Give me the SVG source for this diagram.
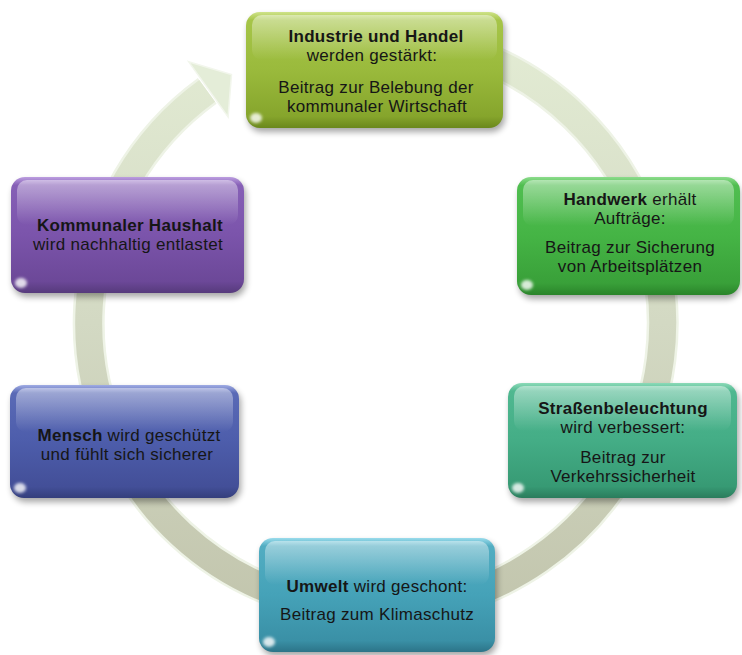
<svg xmlns="http://www.w3.org/2000/svg" width="742" height="655" viewBox="0 0 742 655">
<style>
.t{font-family:"Liberation Sans",Arial,sans-serif;font-size:17px;letter-spacing:.3px;fill:#161616;text-anchor:middle}
.b{font-weight:bold}
.sh{fill:#000;opacity:.35;filter:url(#blur3)}
.hl{fill:url(#hl)}
.gl{fill:#fff;opacity:.8;filter:url(#blur1)}
</style>
<defs>
<filter id="blur3" x="-10%" y="-10%" width="120%" height="130%"><feGaussianBlur stdDeviation="3"/></filter>
<filter id="blur1" x="-50%" y="-50%" width="200%" height="200%"><feGaussianBlur stdDeviation="1.5"/></filter>
<linearGradient id="hl" x1="0" y1="0" x2="0" y2="1"><stop offset="0" stop-color="#fff" stop-opacity=".45"/><stop offset="1" stop-color="#fff" stop-opacity="0"/></linearGradient>
<linearGradient id="ring" gradientUnits="userSpaceOnUse" x1="0" y1="30" x2="0" y2="615"><stop offset="0" stop-color="#e3ecd4"/><stop offset=".5" stop-color="#d3d9c3"/><stop offset="1" stop-color="#c2c5ad"/></linearGradient>
<linearGradient id="g1" x1="0" y1="0" x2="0" y2="1"><stop offset="0" stop-color="#cfe38a"/><stop offset=".07" stop-color="#a6c548"/><stop offset=".5" stop-color="#9aba3c"/><stop offset=".9" stop-color="#86a52c"/><stop offset="1" stop-color="#6a881c"/></linearGradient>
<linearGradient id="g2" x1="0" y1="0" x2="0" y2="1"><stop offset="0" stop-color="#8cdc8c"/><stop offset=".07" stop-color="#50be50"/><stop offset=".5" stop-color="#45b445"/><stop offset=".9" stop-color="#39a039"/><stop offset="1" stop-color="#2a842a"/></linearGradient>
<linearGradient id="g3" x1="0" y1="0" x2="0" y2="1"><stop offset="0" stop-color="#8cdab8"/><stop offset=".07" stop-color="#4fb890"/><stop offset=".5" stop-color="#44ad86"/><stop offset=".9" stop-color="#379a74"/><stop offset="1" stop-color="#2a7c5c"/></linearGradient>
<linearGradient id="g4" x1="0" y1="0" x2="0" y2="1"><stop offset="0" stop-color="#9adcec"/><stop offset=".07" stop-color="#52adc2"/><stop offset=".5" stop-color="#45a2b8"/><stop offset=".9" stop-color="#3a90a6"/><stop offset="1" stop-color="#2c7488"/></linearGradient>
<linearGradient id="g5" x1="0" y1="0" x2="0" y2="1"><stop offset="0" stop-color="#a0ace4"/><stop offset=".07" stop-color="#5a6ab6"/><stop offset=".5" stop-color="#4d5dab"/><stop offset=".9" stop-color="#434f98"/><stop offset="1" stop-color="#343e7c"/></linearGradient>
<linearGradient id="g6" x1="0" y1="0" x2="0" y2="1"><stop offset="0" stop-color="#bc9ee0"/><stop offset=".07" stop-color="#8660b6"/><stop offset=".5" stop-color="#7b54ab"/><stop offset=".9" stop-color="#6c4898"/><stop offset="1" stop-color="#563a7c"/></linearGradient>
</defs>
<rect width="742" height="655" fill="#fff"/>
<g id="connectors">
<path d="M473.2 53.3 A287 287 0 1 1 207.2 90.9" fill="none" stroke="#eef3e6" stroke-width="32"/>
<path d="M473.2 53.3 A287 287 0 1 1 207.2 90.9" fill="none" stroke="url(#ring)" stroke-width="27"/>
<polygon points="188.6,61.7 231.5,74.5 228.1,117 " fill="#e4edd8" stroke="#f2f6ec" stroke-width="1.5"/>
</g>
<g id="node1">
<rect class="sh" x="248" y="16" width="257" height="116" rx="14"/>
<rect x="246" y="12" width="257" height="116" rx="14" fill="url(#g1)"/>
<rect class="hl" x="252" y="15" width="245" height="45" rx="10"/>
<ellipse class="gl" cx="256" cy="118" rx="6" ry="5"/>
<text class="t"><tspan class="b" x="376" y="42">Industrie und Handel</tspan><tspan x="372" y="61">werden gestärkt:</tspan><tspan x="376" y="93">Beitrag zur Belebung der</tspan><tspan x="377" y="112">kommunaler Wirtschaft</tspan></text>
</g>
<g id="node2">
<rect class="sh" x="519" y="181" width="221" height="118" rx="14"/>
<rect x="517" y="177" width="223" height="118" rx="14" fill="url(#g2)"/>
<rect class="hl" x="523" y="180" width="211" height="46" rx="10"/>
<ellipse class="gl" cx="527" cy="285" rx="6" ry="5"/>
<text class="t"><tspan x="630" y="205"><tspan class="b">Handwerk</tspan> erhält</tspan><tspan x="630" y="224">Aufträge:</tspan><tspan x="630" y="253">Beitrag zur Sicherung</tspan><tspan x="630" y="272">von Arbeitsplätzen</tspan></text>
</g>
<g id="node3">
<rect class="sh" x="510" y="387" width="229" height="115" rx="14"/>
<rect x="508" y="383" width="229" height="115" rx="14" fill="url(#g3)"/>
<rect class="hl" x="514" y="386" width="217" height="45" rx="10"/>
<ellipse class="gl" cx="518" cy="488" rx="6" ry="5"/>
<text class="t"><tspan class="b" x="623" y="414">Straßenbeleuchtung</tspan><tspan x="623" y="433">wird verbessert:</tspan><tspan x="623" y="463">Beitrag zur</tspan><tspan x="623" y="482">Verkehrssicherheit</tspan></text>
</g>
<g id="node4">
<rect class="sh" x="261" y="542" width="236" height="114" rx="14"/>
<rect x="259" y="538" width="236" height="114" rx="14" fill="url(#g4)"/>
<rect class="hl" x="265" y="541" width="224" height="44" rx="10"/>
<ellipse class="gl" cx="269" cy="642" rx="6" ry="5"/>
<text class="t"><tspan x="377" y="592"><tspan class="b">Umwelt</tspan> wird geschont:</tspan><tspan x="377" y="620">Beitrag zum Klimaschutz</tspan></text>
</g>
<g id="node5">
<rect class="sh" x="12" y="389" width="229" height="113" rx="14"/>
<rect x="10" y="385" width="229" height="113" rx="14" fill="url(#g5)"/>
<rect class="hl" x="16" y="388" width="217" height="44" rx="10"/>
<ellipse class="gl" cx="20" cy="488" rx="6" ry="5"/>
<text class="t"><tspan x="129" y="441"><tspan class="b">Mensch</tspan> wird geschützt</tspan><tspan x="127" y="460">und fühlt sich sicherer</tspan></text>
</g>
<g id="node6">
<rect class="sh" x="13" y="181" width="233" height="116" rx="14"/>
<rect x="11" y="177" width="233" height="116" rx="14" fill="url(#g6)"/>
<rect class="hl" x="17" y="180" width="221" height="45" rx="10"/>
<ellipse class="gl" cx="21" cy="283" rx="6" ry="5"/>
<text class="t"><tspan class="b" x="130" y="231">Kommunaler Haushalt</tspan><tspan x="128" y="250">wird nachhaltig entlastet</tspan></text>
</g>
</svg>
